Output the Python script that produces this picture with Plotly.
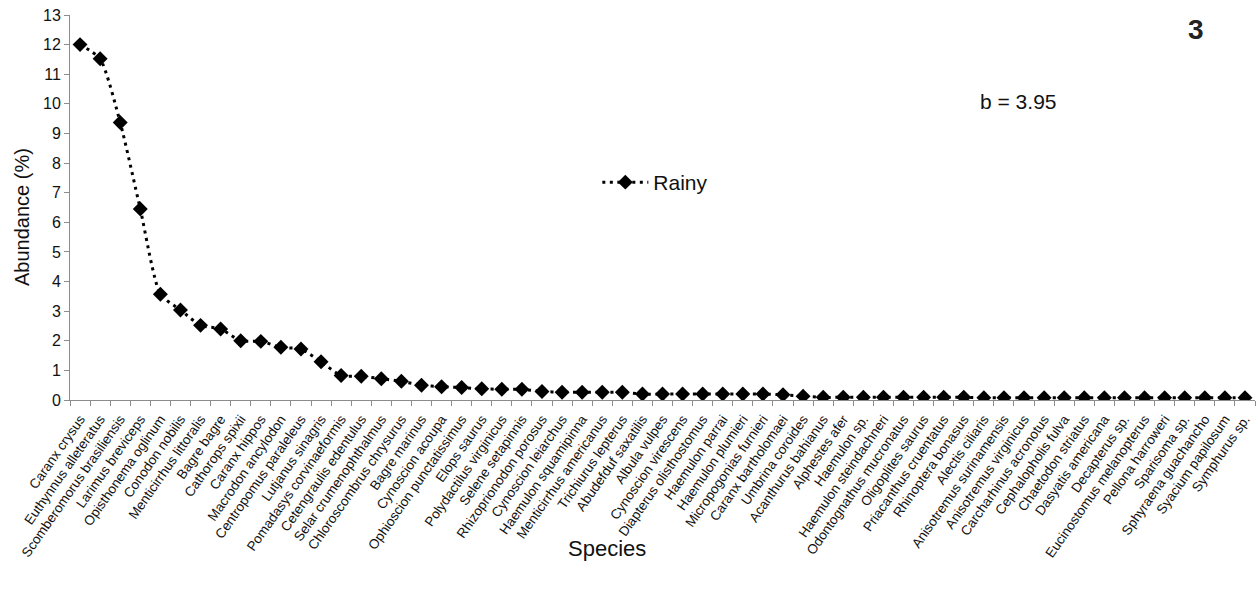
import plotly.graph_objects as go

species = [
    "Caranx crysus", "Euthynnus alleteratus", "Scomberomorus brasiliensis",
    "Larimus breviceps", "Opisthonema oglinum", "Conodon nobilis",
    "Menticirrhus littoralis", "Bagre bagre", "Cathorops spixii",
    "Caranx hippos", "Macrodon ancylodon", "Centropomus paraleleus",
    "Lutjanus sinagris", "Pomadasys corvinaeformis", "Cetengraulis edentulus",
    "Selar crumenophthalmus", "Chloroscombrus chrysurus", "Bagre marinus",
    "Cynoscion acoupa", "Ophioscion punctatissimus", "Elops saurus",
    "Polydactilus virginicus", "Selene setapinnis", "Rhizoprionodon porosus",
    "Cynoscion leiarchus", "Haemulon squamipinna", "Menticirrhus americanus",
    "Trichiurus lepterus", "Abudefduf saxatilis", "Albula vulpes",
    "Cynoscion virescens", "Diapterus olisthostomus", "Haemulon parrai",
    "Haemulon plumieri", "Micropogonias furnieri", "Caranx bartholomaei",
    "Umbrina coroides", "Acanthurus bahianus", "Alphestes afer",
    "Haemulon sp.", "Haemulon steindachneri", "Odontognathus mucronatus",
    "Oligoplites saurus", "Priacanthus cruentatus", "Rhinoptera bonasus",
    "Alectis ciliaris", "Anisotremus surinamensis", "Anisotremus virginicus",
    "Carcharhinus acronotus", "Cephalopholis fulva", "Chaetodon striatus",
    "Dasyatis americana", "Decapterus sp.", "Eucinostomus melanopterus",
    "Pellona harroweri", "Sparisoma sp.", "Sphyraena guachancho",
    "Syacium papilosum", "Symphurus sp.",
]

abundance_rainy = [
    12.0, 11.52, 9.37, 6.45, 3.57, 3.04, 2.52, 2.40, 2.00, 1.98,
    1.78, 1.72, 1.29, 0.83, 0.80, 0.72, 0.63, 0.50, 0.45, 0.42,
    0.38, 0.36, 0.36, 0.29, 0.26, 0.26, 0.26, 0.26, 0.20, 0.20,
    0.20, 0.20, 0.20, 0.20, 0.20, 0.18, 0.13, 0.09, 0.09, 0.09,
    0.09, 0.09, 0.09, 0.09, 0.09, 0.08, 0.08, 0.08, 0.08, 0.08,
    0.08, 0.08, 0.08, 0.08, 0.08, 0.08, 0.08, 0.08, 0.08,
]

y_ticks = list(range(0, 14))

FONT = "Liberation Sans, Arial, sans-serif"
AXIS_GREY = "#8c8c8c"
TEXT = "#111111"

# plot area in pixels: left 70, right 1255, top 15, bottom 400
PL, PR, PT, PB = 70, 1255, 15, 400


def px_to_paper(x, y):
    return (x - PL) / (PR - PL), (PB - y) / (PB - PT)


fig = go.Figure()
fig.add_trace(go.Scatter(
    x=species,
    y=abundance_rainy,
    mode="lines+markers",
    name="Rainy",
    line=dict(color="black", width=3, dash="3px,4.5px", shape="spline", smoothing=0.6),
    marker=dict(symbol="diamond", size=11.5, color="black"),
))


def label(text, x, y, size, angle=0, bold=False, color=TEXT):
    px, py = px_to_paper(x, y)
    return dict(
        text=f"<b>{text}</b>" if bold else text,
        x=px, y=py, xref="paper", yref="paper",
        xanchor="center", yanchor="middle",
        showarrow=False, textangle=angle,
        font=dict(size=size, family=FONT, color=color),
    )


fig.update_layout(
    width=1258,
    height=591,
    margin=dict(l=PL, r=1258 - PR, t=PT, b=591 - PB),
    paper_bgcolor="white",
    plot_bgcolor="white",
    font=dict(family=FONT, color=TEXT),
    showlegend=True,
    legend=dict(
        x=0.445, y=0.565, xanchor="left", yanchor="middle",
        bgcolor="rgba(0,0,0,0)", font=dict(size=21, family=FONT, color=TEXT),
        itemwidth=46,
    ),
    xaxis=dict(
        type="category",
        tickangle=-55,
        tickfont=dict(size=13.5, family=FONT, color=TEXT),
        ticklabelstandoff=5,
        showline=True, linecolor=AXIS_GREY, linewidth=1,
        ticks="outside", ticklen=5, tickcolor=AXIS_GREY, tickson="boundaries",
        showgrid=False, zeroline=False, automargin=False,
        range=[-0.5, len(species) - 0.5],
    ),
    yaxis=dict(
        range=[0, 13],
        tickvals=y_ticks,
        tickfont=dict(size=16, family=FONT, color=TEXT),
        showline=True, linecolor=AXIS_GREY, linewidth=1,
        ticks="outside", ticklen=5, tickcolor=AXIS_GREY,
        showgrid=False, zeroline=False, automargin=False,
    ),
    annotations=[
        label("Abundance (%)", 22, 217, 20, angle=-90),
        label("Species", 607, 548, 22),
        label("b = 3.95", 1018, 102, 21),
        label("3", 1196, 29, 28, bold=True, color="#222222"),
    ],
)

fig.write_html("out.html")
